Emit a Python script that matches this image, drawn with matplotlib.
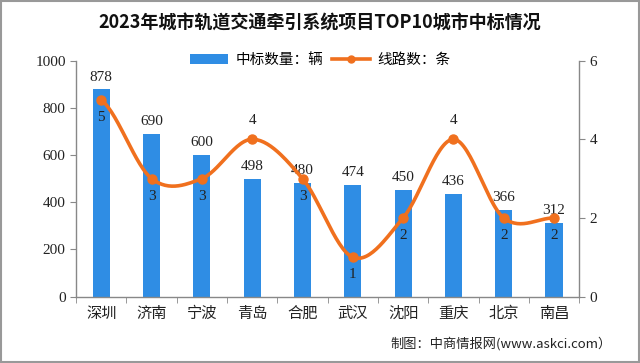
import numpy as np
import matplotlib
matplotlib.use("Agg")
import matplotlib.pyplot as plt
from matplotlib.patches import Rectangle
from matplotlib.lines import Line2D
from matplotlib.patches import Patch

plt.rcParams['font.family'] = ['Noto Sans CJK SC', 'DejaVu Sans']

cities = ["深圳", "济南", "宁波", "青岛", "合肥", "武汉", "沈阳", "重庆", "北京", "南昌"]
bid_counts = [878, 690, 600, 498, 480, 474, 450, 436, 366, 312]
line_counts = [5, 3, 3, 4, 3, 1, 2, 4, 2, 2]
line_label_above = [False, False, False, True, False, False, False, True, False, False]

title = "2023年城市轨道交通牵引系统项目TOP10城市中标情况"
bar_name = "中标数量：辆"
line_name = "线路数：条"
source = "制图：中商情报网(www.askci.com）"

bar_color = "#2F8DE4"
line_color = "#F0701E"

fig = plt.figure(figsize=(6.4, 3.63), dpi=100)
ax = fig.add_axes([0.119, 0.183, 0.786, 0.650])
ax2 = ax.twinx()

x = np.arange(len(cities))
ax.bar(x, bid_counts, width=0.34, color=bar_color, zorder=2)
ax.set_xlim(-0.5, len(cities) - 0.5)
ax.set_ylim(0, 1000)
ax.set_yticks(range(0, 1001, 200))
ax.set_xticks(x)
ax.set_xticklabels(cities, fontsize=11, color="#222222")
ax.set_xticks(np.arange(-0.5, len(cities), 1), minor=True)
ax.tick_params(axis='x', which='major', length=0, pad=6)
ax.tick_params(axis='x', which='minor', length=4, color="#888888")

serif = ['Liberation Serif', 'DejaVu Serif']
for lab in ax.get_yticklabels():
    lab.set_family(serif)
ax.tick_params(axis='y', labelsize=11, length=4, color="#888888", labelcolor="#222222")

for v, xi in zip(bid_counts, x):
    ax.text(xi, v + 25, str(v), ha='center', va='bottom', fontsize=11,
            family=serif, color="#222222", zorder=5)

# smooth line via Catmull-Rom spline
def catmull(xs, ys, n=30):
    xs = np.asarray(xs, float); ys = np.asarray(ys, float)
    px = np.concatenate([[2 * xs[0] - xs[1]], xs, [2 * xs[-1] - xs[-2]]])
    py = np.concatenate([[ys[0]], ys, [ys[-1]]])
    ox, oy = [], []
    t = np.linspace(0, 1, n, endpoint=False)
    for i in range(1, len(px) - 2):
        p0, p1, p2, p3 = [np.array([px[j], py[j]]) for j in (i - 1, i, i + 1, i + 2)]
        for tt in t:
            pt = 0.5 * ((2 * p1) + (-p0 + p2) * tt + (2 * p0 - 5 * p1 + 4 * p2 - p3) * tt ** 2
                        + (-p0 + 3 * p1 - 3 * p2 + p3) * tt ** 3)
            ox.append(pt[0]); oy.append(pt[1])
    ox.append(xs[-1]); oy.append(ys[-1])
    return np.array(ox), np.array(oy)

sx, sy = catmull(x, line_counts)
ax2.plot(sx, sy, color=line_color, lw=2.6, zorder=4, solid_capstyle='round')
ax2.plot(x, line_counts, 'o', color=line_color, ms=6.5, zorder=5)
ax2.set_ylim(0, 6)
ax2.set_yticks(range(0, 7, 2))
for lab in ax2.get_yticklabels():
    lab.set_family(serif)
ax2.tick_params(axis='y', labelsize=11, length=4, color="#888888", labelcolor="#222222")

for xi, v, above in zip(x, line_counts, line_label_above):
    if above:
        ax2.annotate(str(v), (xi, v), xytext=(0, 9), textcoords='offset points',
                     ha='center', va='bottom', fontsize=11, family=serif, color="#222222")
    else:
        ax2.annotate(str(v), (xi, v), xytext=(0, -8), textcoords='offset points',
                     ha='center', va='top', fontsize=11, family=serif, color="#222222")

for a in (ax, ax2):
    a.spines['top'].set_visible(False)
    for s in ('left', 'right', 'bottom'):
        a.spines[s].set_color("#888888")
        a.spines[s].set_linewidth(1.0)
ax2.spines['bottom'].set_visible(False)
ax2.spines['left'].set_visible(False)
ax.spines['right'].set_visible(False)
ax.set_zorder(ax2.get_zorder() - 1)
ax.patch.set_visible(False)

fig.text(0.5, 0.937, title, ha='center', va='center', fontsize=13,
         fontweight='bold', color="#111111")

handles = [Patch(facecolor=bar_color, edgecolor='none'),
           Line2D([0], [0], color=line_color, lw=2.6, marker='o', ms=5)]
fig.legend(handles, [bar_name, line_name], loc='center', bbox_to_anchor=(0.5, 0.835),
           ncol=2, frameon=False, fontsize=10.5, handlelength=2.6, columnspacing=0.6,
           handletextpad=0.5)

fig.text(0.955, 0.052, source, ha='right', va='center', fontsize=9.5, color="#222222")

fig.patches.append(Rectangle((0.002, 0.003), 0.996, 0.994, transform=fig.transFigure,
                             fill=False, edgecolor="#999999", lw=1.5))

fig.savefig("out.png", dpi=100)
